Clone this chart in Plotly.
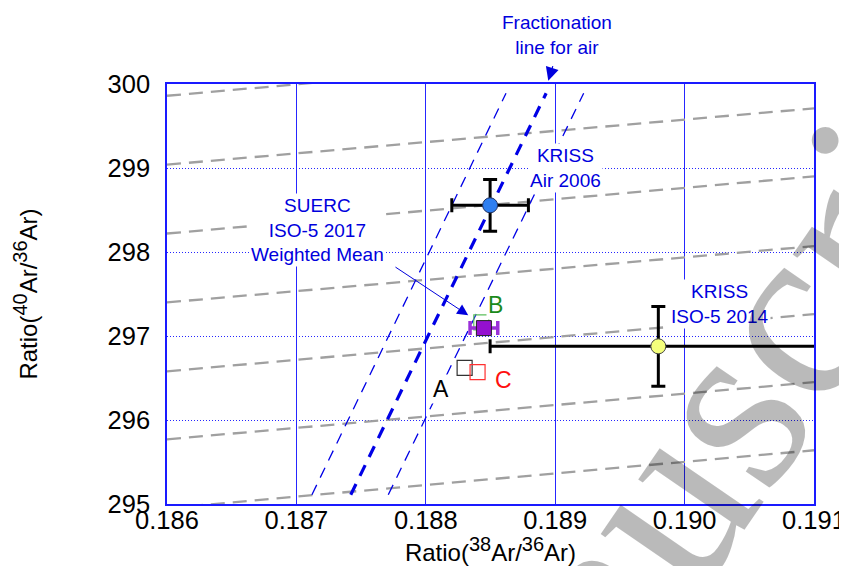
import plotly.graph_objects as go

# ---------------- data ----------------
# grey dashed iso-lines: y at x=0.186 (left) and x=0.191 (right)
grey_x = [0.186, 0.191]
grey_left = [299.86, 299.04, 298.22, 297.40, 296.58, 295.77, 294.95]
grey_right = [300.54, 299.71, 298.90, 298.07, 297.26, 296.45, 295.64]

# fractionation line for air (centre) and its uncertainty band
frac_y = [295.11, 299.89]
frac_center_x = [0.18742, 0.18893]
frac_left_x = [0.18712, 0.18862]
frac_right_x = [0.18771, 0.18922]

# KRISS Air 2006
kriss_air_x = [0.188497]
kriss_air_y = [298.556]
kriss_air_ex = [0.000296]
kriss_air_ey = [0.308]

# KRISS ISO-5 2014
kriss_iso_x = [0.189797]
kriss_iso_y = [296.877]
kriss_iso_ex = [0.0013]
kriss_iso_ey = [0.475]

# SUERC ISO-5 2017 individual results A, B, C and weighted mean
suerc_labels = ["A", "B", "C"]
suerc_x = [0.188300, 0.188429, 0.188400]
suerc_y = [296.620, 297.163, 296.570]
suerc_colors = ["#333333", "#5cbf5c", "#ff3030"]
wmean_x = [0.188449]
wmean_y = [297.094]
wmean_ex = [0.000107]

BLUE = "#2626ff"
TXTBLUE = "#0000dd"
FONT = "Liberation Sans, Arial, sans-serif"

fig = go.Figure()

# grey dashed lines
for yl, yr in zip(grey_left, grey_right):
    fig.add_trace(go.Scatter(x=grey_x, y=[yl, yr], mode="lines",
                             line=dict(color="#a0a0a0", width=2.3, dash="14px,8px"),
                             showlegend=False, hoverinfo="skip"))

# fractionation lines
for xs, w, d in [(frac_left_x, 1.3, "11px,8px"), (frac_right_x, 1.3, "11px,8px"),
                 (frac_center_x, 3.2, "12px,9px")]:
    fig.add_trace(go.Scatter(x=xs, y=frac_y, mode="lines",
                             line=dict(color="#0000e6", width=w, dash=d),
                             showlegend=False, hoverinfo="skip"))

# KRISS ISO-5 2014
fig.add_trace(go.Scatter(
    x=kriss_iso_x, y=kriss_iso_y, mode="markers",
    marker=dict(symbol="circle", size=15, color="#f4ff7c", line=dict(color="#444444", width=1)),
    error_x=dict(type="data", array=kriss_iso_ex, color="black", thickness=3, width=7),
    error_y=dict(type="data", array=kriss_iso_ey, color="black", thickness=3, width=7),
    showlegend=False))

# KRISS Air 2006
fig.add_trace(go.Scatter(
    x=kriss_air_x, y=kriss_air_y, mode="markers",
    marker=dict(symbol="circle", size=15, color="#2f7ff0", line=dict(color="#203060", width=1)),
    error_x=dict(type="data", array=kriss_air_ex, color="black", thickness=3, width=7),
    error_y=dict(type="data", array=kriss_air_ey, color="black", thickness=3, width=7),
    showlegend=False))

# SUERC individual results (open squares)
for lab, x, y, c in zip(suerc_labels, suerc_x, suerc_y, suerc_colors):
    fig.add_trace(go.Scatter(
        x=[x], y=[y], mode="markers",
        marker=dict(symbol="square-open", size=15, color=c, line=dict(color=c, width=1.2)),
        showlegend=False, name=lab))

# SUERC weighted mean
fig.add_trace(go.Scatter(
    x=wmean_x, y=wmean_y, mode="markers",
    marker=dict(symbol="square", size=15, color="#9410d0", line=dict(color="#222222", width=1)),
    error_x=dict(type="data", array=wmean_ex, color="#9b30d9", thickness=3.5, width=7),
    showlegend=False))

ann = []
tfont = dict(family=FONT, size=19, color=TXTBLUE)
txt = dict(font=tfont, showarrow=False, bgcolor="white", xref="x", yref="y")
ann.append(dict(text="Fractionation<br>line for air", x=0.6028, y=1.1176, xref="paper", yref="paper",
                xanchor="center", yanchor="middle", showarrow=False, font=tfont))
ann.append(dict(text="KRISS<br>Air 2006", x=0.189080, y=299.001, **txt))
ann.append(dict(text="SUERC<br>ISO-5 2017<br>Weighted Mean", x=0.187162, y=298.267, **txt))
ann.append(dict(text="KRISS<br>ISO-5 2014", x=0.190277, y=297.376, **txt))

lab_pos = {"A": (0.188117, 296.372), "B": (0.188542, 297.368), "C": (0.188599, 296.471)}
lab_col = {"A": "black", "B": "#1a8a1a", "C": "#ff1010"}
for lab in suerc_labels:
    ann.append(dict(text=lab, x=lab_pos[lab][0], y=lab_pos[lab][1], xref="x", yref="y",
                    showarrow=False, bgcolor="white",
                    font=dict(family=FONT, size=23, color=lab_col[lab])))

# arrows
ann.append(dict(text="", x=0.5893, y=1.0079, ax=5, ay=-16, xref="paper", yref="paper",
                axref="pixel", ayref="pixel", showarrow=True, arrowhead=2, arrowsize=2.2,
                arrowwidth=1.2, arrowcolor=TXTBLUE, standoff=0))
ann.append(dict(text="", x=0.188328, y=297.247, ax=0.187754, ay=297.832, xref="x", yref="y",
                axref="x", ayref="y", showarrow=True, arrowhead=2, arrowsize=2.2,
                arrowwidth=1, arrowcolor=TXTBLUE, standoff=0))

# watermark
ann.append(dict(text="Manuscript", xref="paper", yref="paper", x=0.805, y=0.10,
                xanchor="center", yanchor="middle", showarrow=False, textangle=-55.5,
                font=dict(family="Liberation Serif, Times New Roman, serif", size=253,
                          color="rgba(0,0,0,0.27)")))

SUP = '<sup><span style="font-size:20px">{}</span></sup>'
xtitle = "Ratio(" + SUP.format("38") + "Ar/" + SUP.format("36") + "Ar)"
ytitle = "Ratio(" + SUP.format("40") + "Ar/" + SUP.format("36") + "Ar)"

# the page adds an 8px body margin, so the figure is 8px smaller than the window
fig.update_layout(
    width=839, height=558,
    margin=dict(l=159, r=33, t=76, b=62, autoexpand=False),
    paper_bgcolor="white", plot_bgcolor="white",
    font=dict(family=FONT, color="black"),
    annotations=ann,
    showlegend=False,
)

fig.update_xaxes(
    range=[0.186, 0.191], dtick=0.001, tick0=0.186, tickformat=".3f",
    showgrid=True, gridcolor=BLUE, gridwidth=1, automargin=False,
    showline=True, linecolor="#1a1aff", linewidth=1.5, mirror=True,
    ticks="", tickfont=dict(size=25.5, family=FONT), zeroline=False, ticklabelstandoff=-7,
    title=dict(text=xtitle, font=dict(size=24, family=FONT), standoff=5),
)
fig.update_yaxes(
    range=[295, 300], dtick=1, tick0=295,
    showgrid=True, gridcolor=BLUE, gridwidth=1, griddash="1px,2px", automargin=False,
    showline=True, linecolor="#1a1aff", linewidth=1.5, mirror=True,
    ticks="", tickfont=dict(size=25.5, family=FONT), zeroline=False, ticklabelstandoff=10,
    title=dict(text=ytitle, font=dict(size=24, family=FONT), standoff=63),
)

fig.write_html("out.html")
